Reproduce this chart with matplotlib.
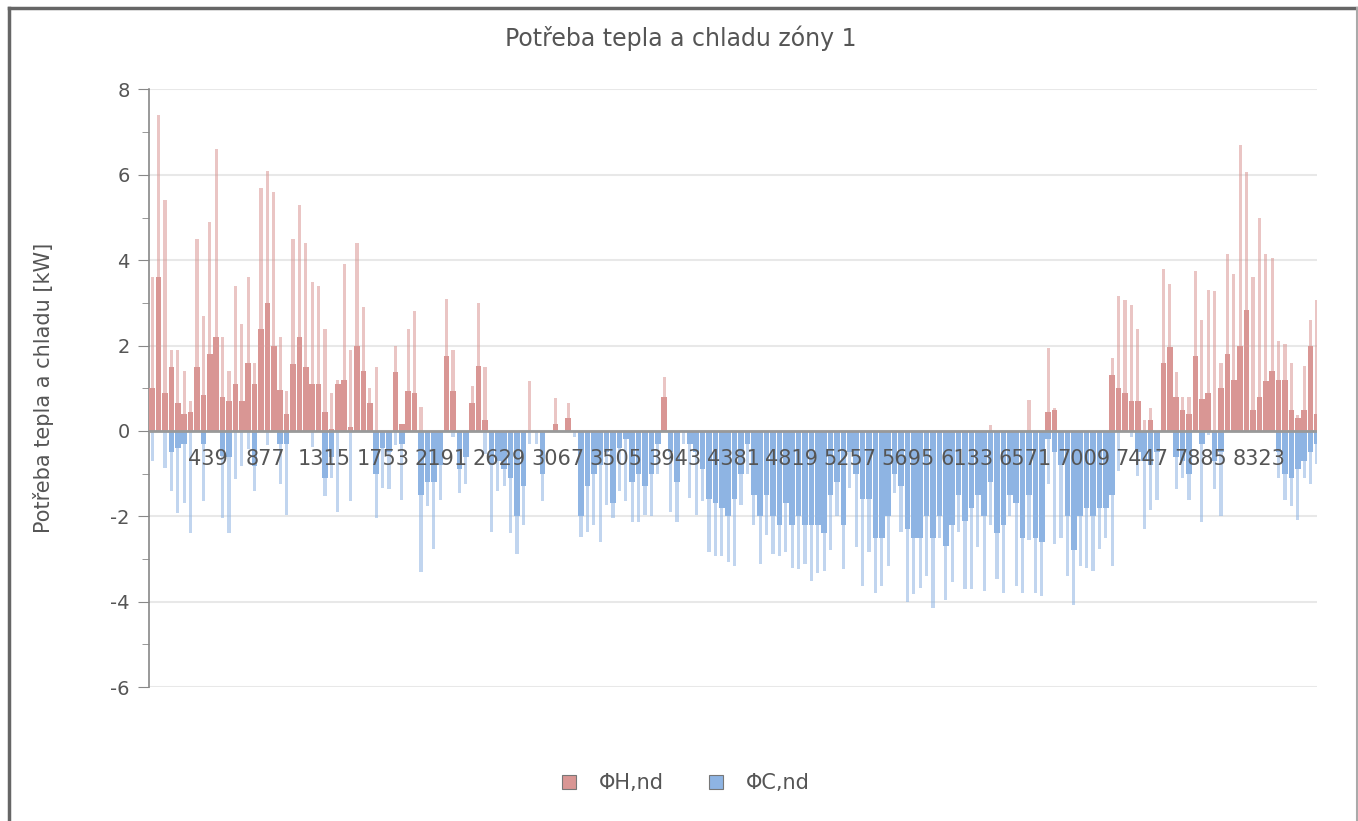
import numpy as np
import matplotlib
matplotlib.use("Agg")
import matplotlib.pyplot as plt
from matplotlib.patches import Patch
from matplotlib.lines import Line2D

plt.rcParams["axes.unicode_minus"] = False

# hourly data in 48 h bins: peak value and typical (base) value per bin
bin_hours = 48
heat_peak = [3.6, 7.4, 5.4, 1.9, 1.9, 1.4, 0.7, 4.5, 2.7, 4.9,
             6.6, 2.2, 1.4, 3.4, 2.5, 3.6, 1.6, 5.7, 6.1, 5.6,
             2.2, 0.93, 4.5, 5.3, 4.4, 3.5, 3.4, 2.4, 0.9, 1.2,
             3.9, 1.9, 4.4, 2.9, 1.0, 1.5, 0, 0, 2.0, 0.17,
             2.4, 2.8, 0.57, 0, 0, 0, 3.1, 1.9, 0, 0,
             1.05, 3.0, 1.5, 0, 0, 0, 0, 0, 0, 1.17,
             0, 0, 0, 0.77, 0, 0.65, 0, 0, 0, 0,
             0, 0, 0, 0, 0, 0, 0, 0, 0, 0,
             1.27, 0, 0, 0, 0, 0, 0, 0, 0, 0,
             0, 0, 0, 0, 0, 0, 0, 0, 0, 0,
             0, 0, 0, 0, 0, 0, 0, 0, 0, 0,
             0, 0, 0, 0, 0, 0, 0, 0, 0, 0,
             0, 0, 0, 0, 0, 0, 0, 0, 0, 0,
             0, 0.13, 0, 0, 0, 0, 0, 0.73, 0, 0,
             1.94, 0.53, 0, 0, 0, 0, 0, 0, 0, 0,
             1.72, 3.15, 3.06, 2.95, 2.4, 0.25, 0.53, 0, 3.8, 3.45,
             1.37, 0.8, 0.8, 3.75, 2.6, 3.3, 3.27, 1.6, 4.14, 3.67,
             6.7, 6.06, 3.6, 5.0, 4.14, 4.06, 2.1, 2.04, 1.6, 0.37,
             1.52, 2.6, 3.06]
heat_base = [1.0, 3.6, 0.9, 1.5, 0.65, 0.4, 0.45, 1.5, 0.85, 1.8,
             2.2, 0.8, 0.7, 1.1, 0.7, 1.6, 1.1, 2.4, 3.0, 2.0,
             0.95, 0.4, 1.56, 2.2, 1.5, 1.1, 1.1, 0.45, 0.05, 1.1,
             1.2, 0.1, 2.0, 1.4, 0.65, 0, 0, 0, 1.37, 0.17,
             0.93, 0.9, 0, 0, 0, 0, 1.76, 0.93, 0, 0,
             0.65, 1.52, 0.25, 0, 0, 0, 0, 0, 0, 0,
             0, 0, 0, 0.17, 0, 0.3, 0, 0, 0, 0,
             0, 0, 0, 0, 0, 0, 0, 0, 0, 0,
             0.8, 0, 0, 0, 0, 0, 0, 0, 0, 0,
             0, 0, 0, 0, 0, 0, 0, 0, 0, 0,
             0, 0, 0, 0, 0, 0, 0, 0, 0, 0,
             0, 0, 0, 0, 0, 0, 0, 0, 0, 0,
             0, 0, 0, 0, 0, 0, 0, 0, 0, 0,
             0, 0, 0, 0, 0, 0, 0, 0, 0, 0,
             0.45, 0.5, 0, 0, 0, 0, 0, 0, 0, 0,
             1.3, 1.0, 0.9, 0.7, 0.7, 0, 0.25, 0, 1.6, 1.96,
             0.8, 0.5, 0.4, 1.76, 0.75, 0.9, 0, 1.0, 1.8, 1.2,
             2.0, 2.83, 0.5, 0.8, 1.17, 1.4, 1.2, 1.2, 0.5, 0.3,
             0.5, 2.0, 0.4]
cool_peak = [0.7, 0, 0.86, 1.41, 1.93, 1.69, 2.4, 0, 1.65, 0,
             0, 2.05, 2.4, 1.13, 0.82, 0.42, 1.41, 0, 0.34, 0,
             1.25, 1.97, 0, 0, 0, 0.38, 0, 1.53, 1.1, 1.89,
             0, 1.65, 0, 0, 0, 2.05, 1.33, 1.37, 0.34, 1.61,
             0, 0, 3.3, 1.77, 2.76, 1.61, 0, 0.15, 1.45, 1.25,
             0, 0, 0.54, 2.37, 1.41, 1.29, 2.4, 2.88, 2.2, 0.3,
             0.3, 1.65, 0, 0, 0, 0, 0.15, 2.48, 2.37, 2.2,
             2.6, 1.73, 2.05, 1.4, 1.65, 2.13, 2.13, 1.97, 2.0, 1.0,
             0, 1.89, 2.13, 0.3, 1.57, 1.97, 1.65, 2.84, 2.92, 2.92,
             3.08, 3.16, 1.73, 1.0, 2.2, 3.12, 2.44, 2.88, 2.92, 2.84,
             3.2, 3.24, 3.12, 3.52, 3.32, 3.28, 2.8, 2.0, 3.24, 1.33,
             2.72, 3.63, 2.84, 3.8, 3.63, 3.16, 1.45, 2.37, 4.0, 3.83,
             3.67, 3.4, 4.15, 2.5, 3.95, 3.55, 2.37, 3.7, 3.71, 2.72,
             3.75, 2.2, 3.48, 3.8, 2.0, 3.63, 3.8, 2.56, 3.8, 3.87,
             1.25, 2.64, 2.52, 3.4, 4.07, 3.16, 3.2, 3.28, 2.76, 2.52,
             3.16, 0.94, 0, 0.15, 1.05, 2.29, 1.85, 1.61, 0, 0,
             1.37, 1.1, 1.61, 0, 2.13, 0.1, 1.37, 2.0, 0, 0,
             0, 0, 0, 0, 0, 0, 1.1, 1.61, 1.77, 2.09,
             1.1, 1.25, 0.78]
cool_base = [0, 0, 0, 0.5, 0.4, 0.3, 0, 0, 0.3, 0,
             0, 0.58, 0.6, 0, 0, 0, 0.82, 0, 0, 0,
             0.3, 0.3, 0, 0, 0, 0, 0, 1.1, 0.6, 0,
             0, 0, 0, 0, 0, 1.0, 0.4, 0.5, 0, 0.3,
             0, 0, 1.5, 1.2, 1.2, 0.8, 0, 0, 0.9, 0.6,
             0, 0, 0, 0.8, 0.7, 0.9, 1.1, 2.0, 1.3, 0,
             0, 1.0, 0, 0, 0, 0, 0, 2.0, 1.3, 1.0,
             0.8, 0.5, 1.7, 0.4, 0.2, 1.2, 1.0, 1.3, 1.0, 0.3,
             0, 0.5, 1.2, 0, 0.3, 0.5, 0.9, 1.6, 1.7, 1.8,
             2.0, 1.6, 1.0, 0.3, 1.5, 2.0, 1.5, 2.0, 2.2, 1.7,
             2.2, 2.0, 2.2, 2.2, 2.2, 2.4, 1.5, 1.2, 2.2, 0.5,
             1.0, 1.6, 1.6, 2.5, 2.5, 2.0, 1.0, 1.3, 2.3, 2.5,
             2.5, 2.0, 2.5, 2.0, 2.7, 2.2, 1.5, 2.1, 1.8, 1.5,
             2.0, 1.2, 2.4, 2.2, 1.5, 1.7, 2.5, 1.5, 2.5, 2.6,
             0.2, 0.5, 0.8, 2.0, 2.8, 2.0, 1.8, 2.0, 1.8, 1.8,
             1.5, 0, 0, 0, 0.5, 0.7, 0.8, 0.5, 0, 0,
             0.6, 0.7, 1.0, 0, 0.3, 0, 0.7, 0.5, 0, 0,
             0, 0, 0, 0, 0, 0, 0.5, 1.0, 1.1, 0.9,
             0.7, 0.5, 0.3]
tick_hours = [439, 877, 1315, 1753, 2191, 2629, 3067, 3505, 3943, 4381,
              4819, 5257, 5695, 6133, 6571, 7009, 7447, 7885, 8323]

heat_col = "#D99694"
cool_col = "#8EB4E3"
text_col = "#555555"

centers = np.arange(len(heat_peak)) * bin_hours + bin_hours / 2
hp = np.array(heat_peak)
hb = np.array(heat_base)
cp = -np.array(cool_peak)
cb = -np.array(cool_base)

fig = plt.figure(figsize=(13.58, 8.21), dpi=100)
W, H = 1358, 821
ax = fig.add_axes([149 / W, 1 - 687 / H, (1317 - 149) / W, (687 - 89.5) / H])

# light spikes, then denser solid part
ax.bar(centers, hp, width=bin_hours * 0.5, color=heat_col, alpha=0.55, linewidth=0, zorder=2)
ax.bar(centers, hb, width=bin_hours * 0.85, color=heat_col, linewidth=0, zorder=3)
ax.bar(centers, cp, width=bin_hours * 0.5, color=cool_col, alpha=0.55, linewidth=0, zorder=2)
ax.bar(centers, cb, width=bin_hours * 0.85, color=cool_col, linewidth=0, zorder=3)

ax.set_xlim(0, 8760)
ax.set_ylim(-6, 8)
ax.set_yticks(np.arange(-6, 9, 2))
ax.set_yticks(np.arange(-5, 8, 2), minor=True)
ax.yaxis.grid(True, which="major", color="#e8e8e8", linewidth=1.5, zorder=0)
ax.set_axisbelow(True)
for s in ["top", "right", "bottom"]:
    ax.spines[s].set_visible(False)
ax.spines["left"].set_color("#888888")
ax.spines["left"].set_linewidth(1.2)
ax.tick_params(axis="y", which="major", length=8, color="#888888", labelsize=14,
               labelcolor=text_col, pad=6)
ax.tick_params(axis="y", which="minor", length=5, color="#888888")
ax.set_xticks([])
ax.axhline(0, color="#999999", linewidth=2, zorder=4)

for h in tick_hours:
    ax.text(h, -0.65, str(h), ha="center", va="center", fontsize=15,
            color=text_col, zorder=5)

ax.set_ylabel("Potřeba tepla a chladu [kW]", fontsize=15, color=text_col, labelpad=40)
fig.text(681 / W, 1 - 38 / H, "Potřeba tepla a chladu zóny 1", ha="center", va="center",
         fontsize=17, color=text_col)

handles = [Patch(facecolor=heat_col, edgecolor="#777777", linewidth=0.8, label="ΦH,nd"),
           Patch(facecolor=cool_col, edgecolor="#777777", linewidth=0.8, label="ΦC,nd")]
fig.legend(handles=handles, loc="center", bbox_to_anchor=(686 / W, 1 - 783 / H), ncol=2,
           frameon=False, fontsize=15, handlelength=0.65, handleheight=0.65,
           columnspacing=2.2, handletextpad=1.1, labelcolor=text_col)

# outer frame of the screenshot
frame = dict(color="#666666", linewidth=2.5, transform=fig.transFigure)
fig.add_artist(Line2D([8.5 / W, 8.5 / W], [0, 1 - 8.5 / H], **frame))
fig.add_artist(Line2D([8.5 / W, 1356.5 / W], [1 - 8.5 / H, 1 - 8.5 / H], **frame))
fig.add_artist(Line2D([1356.5 / W, 1356.5 / W], [0, 1 - 8.5 / H], color="#aaaaaa",
                      linewidth=1.5, transform=fig.transFigure))

fig.savefig("out.png", dpi=100)
